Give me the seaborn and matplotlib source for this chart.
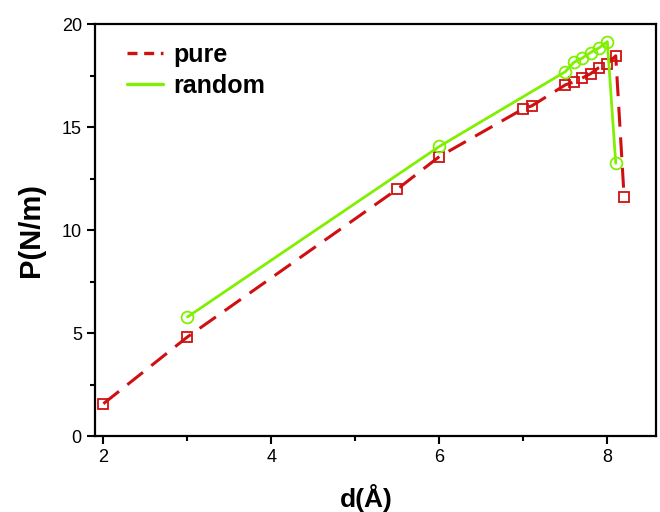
import matplotlib
matplotlib.use("Agg")
import matplotlib.pyplot as plt
from matplotlib.lines import Line2D
from matplotlib.ticker import MultipleLocator
import seaborn as sns
import pandas as pd

pure_x = [2.0, 3.0, 5.5, 6.0, 7.0, 7.1, 7.5, 7.6, 7.7, 7.8, 7.9, 8.0, 8.1, 8.2]
pure_y = [1.58, 4.82, 12.0, 13.58, 15.9, 16.04, 17.06, 17.2, 17.39, 17.6, 17.9, 18.08, 18.47, 11.61]
random_x = [3.0, 6.0, 7.5, 7.6, 7.7, 7.8, 7.9, 8.0, 8.1]
random_y = [5.79, 14.07, 17.7, 18.15, 18.36, 18.63, 18.85, 19.16, 13.26]
series_names = ["pure", "random"]

RED = "#d01010"
GREEN = "#80f000"

sns.set_style("ticks")
plt.rcParams["font.family"] = ["Liberation Sans", "DejaVu Sans"]
plt.rcParams["text.color"] = "black"
plt.rcParams["axes.labelcolor"] = "black"
plt.rcParams["xtick.color"] = "black"
plt.rcParams["ytick.color"] = "black"

fig = plt.figure(figsize=(6.6, 5.12), dpi=100)
ax = fig.add_axes([0.144, 0.148, 0.85, 0.8045])

df_pure = pd.DataFrame({"x": pure_x, "y": pure_y})
df_rand = pd.DataFrame({"x": random_x, "y": random_y})

sns.lineplot(data=df_pure, x="x", y="y", sort=False, ax=ax, color=RED,
             linewidth=2.2, dashes=False, linestyle=(0, (6.5, 3.5)),
             marker="s", markersize=7.5, markerfacecolor="none",
             markeredgecolor=RED, markeredgewidth=1.3, zorder=3)
sns.lineplot(data=df_rand, x="x", y="y", sort=False, ax=ax, color=GREEN,
             linewidth=2.0, marker="o", markersize=8.5, markerfacecolor="none",
             markeredgecolor=GREEN, markeredgewidth=1.3, zorder=4)

ax.set_xlim(1.90, 8.58)
ax.set_ylim(0, 20)
ax.xaxis.set_major_locator(MultipleLocator(2))
ax.xaxis.set_minor_locator(MultipleLocator(1))
ax.yaxis.set_major_locator(MultipleLocator(5))
ax.yaxis.set_minor_locator(MultipleLocator(2.5))
ax.tick_params(which="major", direction="out", length=6, width=1.5, labelsize=13,
               colors="black", top=False, right=False)
ax.tick_params(which="minor", direction="out", length=3.5, width=1.5,
               top=False, right=False)
for s in ax.spines.values():
    s.set_linewidth(1.6)
    s.set_color("black")

ax.set_xlabel("d(Å)", fontsize=19, fontweight="bold", labelpad=13, color="black")
ax.xaxis.label.set_x(0.483)
ax.set_ylabel("P(N/m)", fontsize=21, fontweight="bold", labelpad=12, color="black")

handles = [Line2D([], [], color=RED, linewidth=2.4, linestyle=(0, (3, 2))),
           Line2D([], [], color=GREEN, linewidth=2.4)]
leg = ax.legend(handles, series_names, loc="upper left", frameon=False,
                prop={"size": 18, "weight": "bold"}, handlelength=1.45,
                handletextpad=0.4, labelspacing=0.3,
                bbox_to_anchor=(0.017, 1.01))
for t in leg.get_texts():
    t.set_color("black")

fig.savefig("out.png", dpi=100)
